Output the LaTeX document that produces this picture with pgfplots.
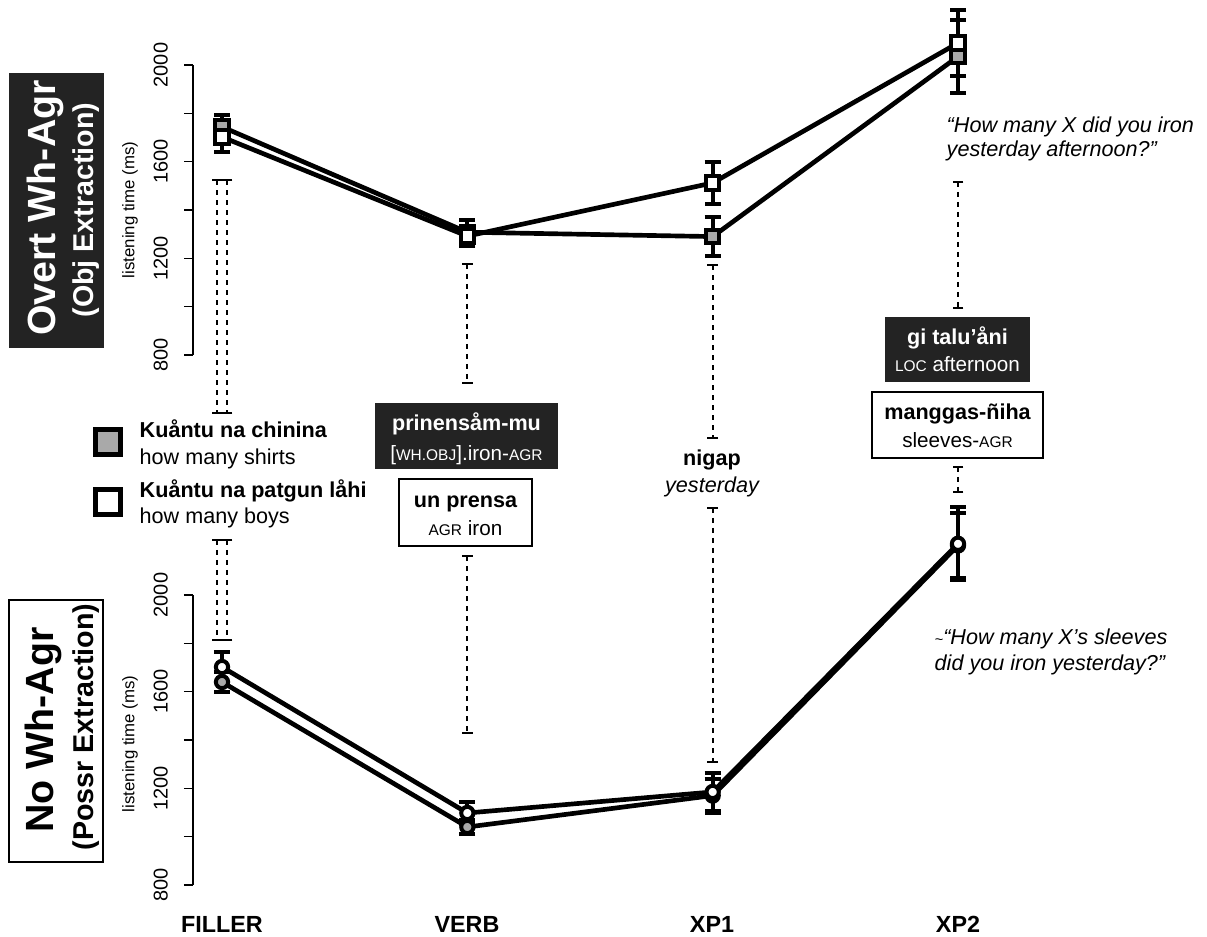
\documentclass[border=0pt]{standalone}
\usepackage{pgfplots}
\usepackage{pgfplotstable}
\pgfplotsset{compat=1.18}
\usepackage{fontspec}
\setmainfont{Liberation Sans}
\definecolor{boxdark}{HTML}{232323}
\definecolor{markgray}{HTML}{A9A9A9}
\newcommand\fs[1]{\fontsize{#1}{#1}\selectfont}
\newcommand\smc[1]{{\fontsize{11.6pt}{12pt}\selectfont #1}}

% Overt Wh-Agr (Obj Extraction)
\pgfplotstableread{
x y e
1 1744 50
2 1308 52
3 1290 80
4 2035 150
}\topgray
\pgfplotstableread{
x y e
1 1702 60
2 1292 40
3 1512 88
4 2091 135
}\topwhite
% No Wh-Agr (Possr Extraction)
\pgfplotstableread{
x y e
1 1640 40
2 1040 30
3 1170 70
4 2205 135
}\botgray
\pgfplotstableread{
x y e
1 1702 62
2 1098 45
3 1185 80
4 2212 152
}\botwhite

\pgfplotsset{
  panel/.style={
    scale only axis, width=573.75pt, height=217.5pt,
    xmin=0.8818, xmax=4, ymin=800, ymax=2000,
    clip=false, anchor=south west,
    axis x line=none, axis y line=left,
    axis line style={-, line width=0.8pt, black},
    ytick={800,1000,...,2000},
    yticklabels={800,,1200,,1600,,2000},
    tick align=outside, major tick length=6.75pt,
    ytick style={line width=0.8pt, black},
    yticklabel style={rotate=90, anchor=south, inner ysep=12pt, font=\fs{15pt}},
  },
  ser/.style={black, line width=3.5pt,
    error bars/y dir=both, error bars/y explicit,
    error bars/error bar style={line width=3pt, solid},
    error bars/error mark options={rotate=90, line width=3pt, mark size=6pt, black}},
  sq/.style={mark=square*, mark size=5pt, mark options={draw=black, fill=#1, line width=2.9pt, solid}},
  ci/.style={mark=*, mark size=4.6pt, mark options={draw=black, fill=#1, line width=3pt, solid}},
  deco/.style={black, line width=1.5pt, dash pattern=on 4pt off 3.5pt, mark=-, mark size=4pt, mark options={solid, line width=1.8pt}},
}

\begin{document}
\begin{tikzpicture}[x=0.75pt,y=0.75pt]
\path[use as bounding box] (0,0) rectangle (1207,-937);

% ---------- top panel ----------
\begin{axis}[panel, at={(144.75pt,-266.25pt)}]
\addplot[deco] coordinates {(0.9796,1524) (0.9796,560)};
\addplot[deco] coordinates {(1.0204,1524) (1.0204,560)};
\addplot[deco] coordinates {(2,1177) (2,684)};
\addplot[deco] coordinates {(3,1172) (3,457)};
\addplot[deco] coordinates {(4,1516) (4,995)};
\addplot[ser, sq=markgray] table[x=x, y=y, y error=e] {\topgray};
\addplot[ser, sq=white] table[x=x, y=y, y error=e] {\topwhite};
% legend keys
\addplot[only marks, mark=square*, mark size=9.6pt, mark options={draw=black, fill=markgray, line width=3.9pt}] coordinates {(0.5353,440)};
\addplot[only marks, mark=square*, mark size=9.6pt, mark options={draw=black, fill=white, line width=3.9pt}] coordinates {(0.5353,192)};
\end{axis}

% ---------- bottom panel ----------
\begin{axis}[panel, at={(144.75pt,-663.75pt)}]
\addplot[deco] coordinates {(0.9796,2228) (0.9796,1814)};
\addplot[deco] coordinates {(1.0204,2228) (1.0204,1814)};
\addplot[deco] coordinates {(2,2161) (2,1429)};
\addplot[deco] coordinates {(3,2360) (3,1309)};
\addplot[deco] coordinates {(4,2530) (4,2426)};
\addplot[ser, ci=markgray] table[x=x, y=y, y error=e] {\botgray};
\addplot[ser, ci=white] table[x=x, y=y, y error=e] {\botwhite};
\end{axis}

% ---------- panel titles ----------
\fill[boxdark] (9,-73) rectangle (104,-348);
\node[rotate=90, anchor=base, text=white, font=\bfseries\fs{29.5pt}] at (55,-208) {Overt Wh-Agr};
\node[rotate=90, anchor=base, text=white, font=\bfseries\fs{21.5pt}] at (93,-210) {(Obj Extraction)};
\draw[line width=1.2pt] (9,-600) rectangle (103,-862);
\node[rotate=90, anchor=base, font=\bfseries\fs{29.5pt}] at (53,-730) {No Wh-Agr};
\node[rotate=90, anchor=base, font=\bfseries\fs{21.5pt}] at (93,-727) {(Possr Extraction)};

% y labels
\node[rotate=90, font=\fs{12.6pt}] at (130,-210) {listening time (ms)};
\node[rotate=90, font=\fs{12.6pt}] at (130,-744) {listening time (ms)};

% legend text
\node[anchor=base west, font=\bfseries\fs{16.2pt}] at (135,-438) {Kuåntu na chinina};
\node[anchor=base west, font=\fs{16.2pt}] at (135,-465) {how many shirts};
\node[anchor=base west, font=\bfseries\fs{16.2pt}] at (135,-498) {Kuåntu na patgun låhi};
\node[anchor=base west, font=\fs{16.2pt}] at (135,-524) {how many boys};

% word boxes
\fill[boxdark] (375,-403) rectangle (558,-469);
\node[anchor=base, text=white, font=\bfseries\fs{16.2pt}] at (466.5,-431) {prinensåm-mu};
\node[anchor=base, text=white, font=\fs{15.5pt}] at (466.5,-461) {[\smc{WH.OBJ}].iron-\smc{AGR}};
\draw[line width=0.9pt, fill=white] (399,-479) rectangle (532,-546);
\node[anchor=base, font=\bfseries\fs{16.2pt}] at (465.5,-508) {un prensa};
\node[anchor=base, font=\fs{15.5pt}] at (465.5,-536) {\smc{AGR} iron};

\node[anchor=base, font=\bfseries\fs{16.2pt}] at (712,-466) {nigap};
\node[anchor=base, font=\itshape\fs{16.2pt}] at (712,-493) {yesterday};

\fill[boxdark] (885,-317) rectangle (1030,-382);
\node[anchor=base, text=white, font=\bfseries\fs{16.2pt}] at (957.5,-345) {gi talu’åni};
\node[anchor=base, text=white, font=\fs{15.5pt}] at (957.5,-372) {\smc{LOC} afternoon};
\draw[line width=0.9pt, fill=white] (872,-392) rectangle (1043,-458);
\node[anchor=base, font=\bfseries\fs{16.2pt}] at (957.5,-420) {manggas-ñiha};
\node[anchor=base, font=\fs{15.5pt}] at (957.5,-448) {sleeves-\smc{AGR}};

% glosses
\node[anchor=base west, font=\itshape\fs{16.2pt}] at (942,-133) {“How many X did you iron};
\node[anchor=base west, font=\itshape\fs{16.2pt}] at (942,-157) {yesterday afternoon?”};
\node[anchor=base west, font=\itshape\fs{16.2pt}] at (930,-644) {{\fs{11pt}\textasciitilde}“How many X’s sleeves};
\node[anchor=base west, font=\itshape\fs{16.2pt}] at (930,-670) {did you iron yesterday?”};

% x labels
\node[anchor=base, font=\bfseries\fs{17.5pt}] at (222,-932) {FILLER};
\node[anchor=base, font=\bfseries\fs{17.5pt}] at (467,-932) {VERB};
\node[anchor=base, font=\bfseries\fs{17.5pt}] at (712,-932) {XP1};
\node[anchor=base, font=\bfseries\fs{17.5pt}] at (958,-932) {XP2};
\end{tikzpicture}
\end{document}
